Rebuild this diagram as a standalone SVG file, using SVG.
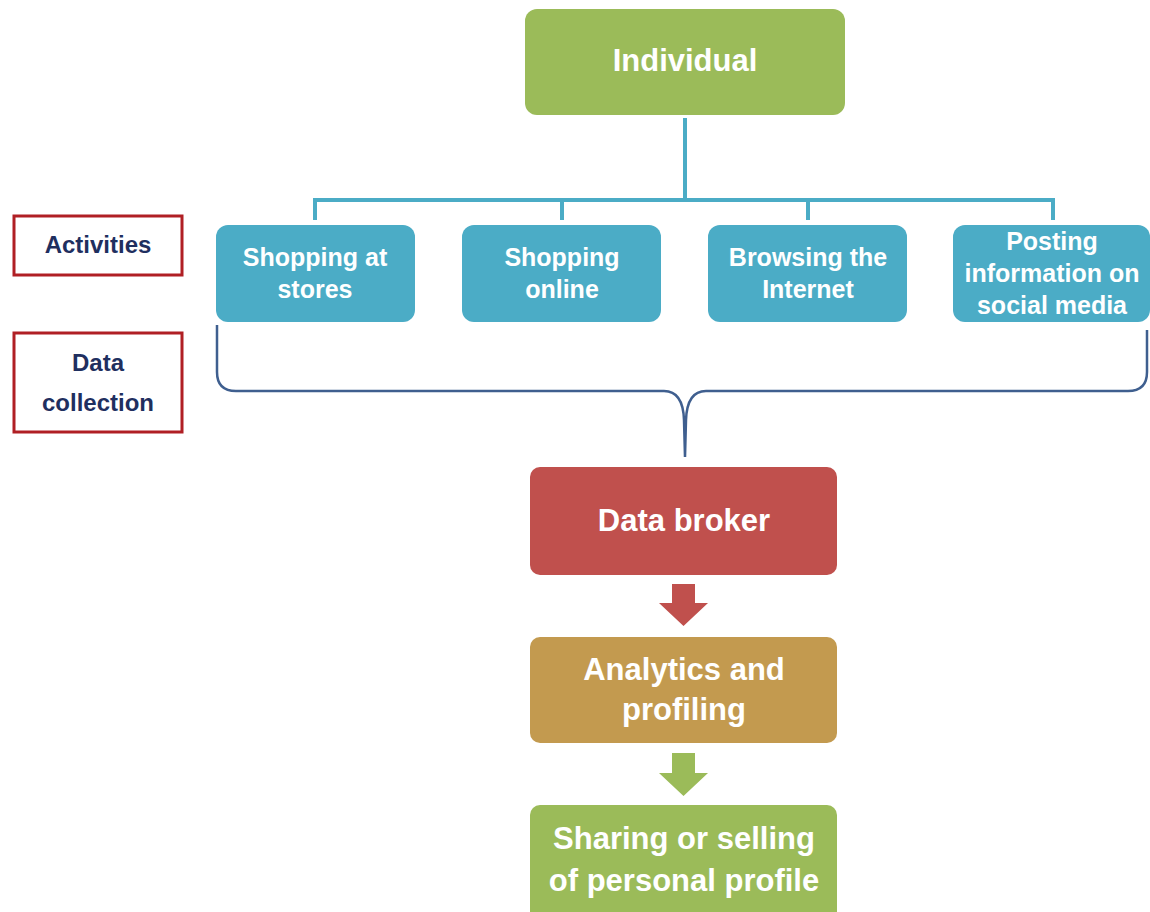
<svg xmlns="http://www.w3.org/2000/svg" width="1150" height="912" viewBox="0 0 1150 912">
<style>
.t{font-family:"Liberation Sans",Arial,sans-serif;font-weight:bold;fill:#fff;text-anchor:middle}
.act{font-size:25px}
.big{font-size:31px}
.lbl{font-family:"Liberation Sans",Arial,sans-serif;font-weight:bold;fill:#1f2f5f;text-anchor:middle;font-size:24px}
.lbox{fill:#fff;stroke:#b01f24;stroke-width:3}
.abox{fill:#4bacc6}
.conn{fill:none;stroke:#4bacc6;stroke-width:4}
.brace{fill:none;stroke:#3f5f8f;stroke-width:2.5}
</style>
<rect width="1150" height="912" fill="#fff"/>
<g id="connectors">
<path class="conn" d="M685,118 V200 M315,200 H1053 M315,198 V220 M562,200 V220 M808,200 V220 M1053,198 V220"/>
<path class="brace" d="M217,325 V372 Q217,391 236,391 H664 Q683,391 684,420 L685,457 M685,457 L686,420 Q687,391 706,391 H1128 Q1147,391 1147,372 V330"/>
<polygon fill="#c0504d" points="672,584 695,584 695,603 708,603 683.5,626 659,603 672,603"/>
<polygon fill="#9bbb59" points="672,753 695,753 695,773 708,773 683.5,796 659,773 672,773"/>
</g>
<g id="individual">
<rect x="525" y="9" width="320" height="106" rx="12" fill="#9bbb59"/>
<text class="t big" x="685" y="71">Individual</text>
</g>
<g id="label-activities">
<rect class="lbox" x="14" y="216" width="168" height="59"/>
<text class="lbl" x="98" y="253">Activities</text>
</g>
<g id="label-data-collection">
<rect class="lbox" x="14" y="333" width="168" height="99"/>
<text class="lbl" x="98" y="371">Data</text>
<text class="lbl" x="98" y="411">collection</text>
</g>
<g id="shopping-stores">
<rect class="abox" x="216" y="225" width="199" height="97" rx="12"/>
<text class="t act" x="315" y="266">Shopping at</text>
<text class="t act" x="315" y="298">stores</text>
</g>
<g id="shopping-online">
<rect class="abox" x="462" y="225" width="199" height="97" rx="12"/>
<text class="t act" x="562" y="266">Shopping</text>
<text class="t act" x="562" y="298">online</text>
</g>
<g id="browsing">
<rect class="abox" x="708" y="225" width="199" height="97" rx="12"/>
<text class="t act" x="808" y="266">Browsing the</text>
<text class="t act" x="808" y="298">Internet</text>
</g>
<g id="posting">
<rect class="abox" x="953" y="225" width="197" height="97" rx="12"/>
<text class="t act" x="1052" y="250">Posting</text>
<text class="t act" x="1052" y="282">information on</text>
<text class="t act" x="1052" y="314">social media</text>
</g>
<g id="data-broker">
<rect x="530" y="467" width="307" height="108" rx="10" fill="#c0504d"/>
<text class="t big" x="684" y="531">Data broker</text>
</g>
<g id="analytics">
<rect x="530" y="637" width="307" height="106" rx="10" fill="#c39a4f"/>
<text class="t big" x="684" y="680">Analytics and</text>
<text class="t big" x="684" y="720">profiling</text>
</g>
<g id="sharing">
<rect x="530" y="805" width="307" height="120" rx="10" fill="#9bbb59"/>
<text class="t big" x="684" y="849">Sharing or selling</text>
<text class="t big" x="684" y="891">of personal profile</text>
</g>
</svg>
